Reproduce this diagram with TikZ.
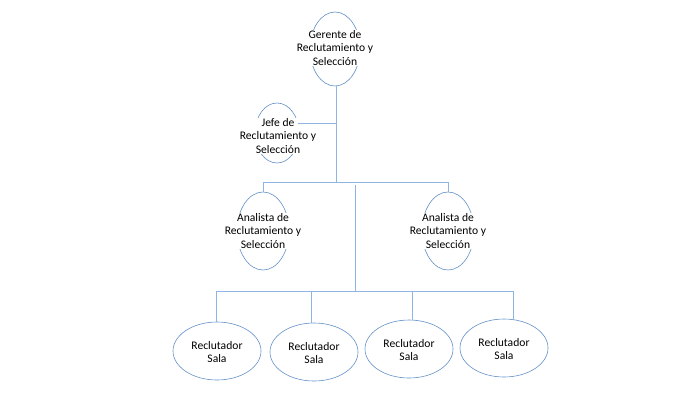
\documentclass[tikz,border=0pt]{standalone}
\usepackage{fontspec}
\setmainfont{Carlito}
\usetikzlibrary{shapes.geometric}
\definecolor{linec}{RGB}{141,180,226}
\definecolor{ellc}{RGB}{100,145,200}
\begin{document}
\begin{tikzpicture}[x=1pt,y=-1pt,
  oval/.style={draw=ellc,line width=0.6pt,ellipse,inner sep=0pt},
  lbl/.style={fill=white,inner sep=0.5pt,align=center,font=\fontsize{11.6}{13.2}\selectfont},
  conn/.style={draw=linec,line width=1pt}]
\useasboundingbox (0,0) rectangle (700,394);
\fill[white] (0,0) rectangle (700,394);
% ellipses
\node[oval,minimum width=50,minimum height=74] (ger) at (335,49) {};
\node[oval,minimum width=44,minimum height=60] (jefe) at (277,133) {};
\node[oval,minimum width=52,minimum height=78] (an1) at (263,231) {};
\node[oval,minimum width=52,minimum height=78] (an2) at (448,231) {};
\node[oval,minimum width=88,minimum height=58] (r1) at (217,351) {};
\node[oval,minimum width=88,minimum height=58] (r2) at (314,352) {};
\node[oval,minimum width=88,minimum height=58] (r3) at (409,349) {};
\node[oval,minimum width=88,minimum height=58] (r4) at (504,348) {};
% labels
\node[lbl] (tger) at (335,48) {Gerente de\\Reclutamiento y\\Selección};
\node[lbl] (tjefe) at (278,136) {Jefe de\\Reclutamiento y\\Selección};
\node[lbl] (tan1) at (263,231) {Analista de\\Reclutamiento y\\Selección};
\node[lbl] (tan2) at (448,231) {Analista de\\Reclutamiento y\\Selección};
\node[lbl] (tr1) at (217,352) {Reclutador\\Sala};
\node[lbl] (tr2) at (314,353) {Reclutador\\Sala};
\node[lbl] (tr3) at (409,350) {Reclutador\\Sala};
\node[lbl] (tr4) at (504,349) {Reclutador\\Sala};
% junction coordinates
\coordinate (j1) at (336,123);
\coordinate (j2) at (336,182);
\coordinate (jl) at (263,182);
\coordinate (jr) at (448,182);
\coordinate (k1) at (355,185);
\coordinate (k2) at (355,291);
\coordinate (b1) at (216,291);
\coordinate (b4) at (513,291);
\coordinate (jt) at (298,123);
% connectors
\draw[conn] (ger.south -| j1) -- (j2);
\draw[conn] (jt) -- (j1);
\draw[conn] (an1.north) -- (jl) -- (jr) -- (an2.north);
\draw[conn] (k1) -- (k2);
\draw[conn] (r1.north -| b1) -- (b1) -- (b4) -- (r4.north -| b4);
\draw[conn] (r2.north -| 311,0) -- (311,291);
\draw[conn] (r3.north -| 412,0) -- (412,291);
\end{tikzpicture}
\end{document}
